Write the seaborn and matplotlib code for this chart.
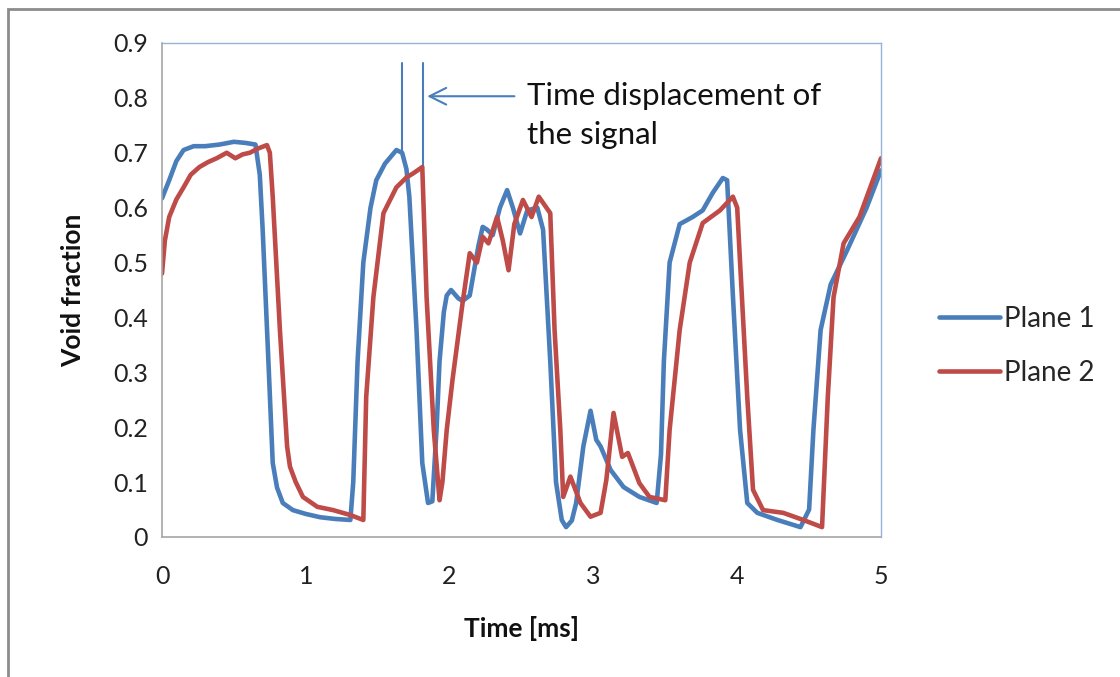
import matplotlib
matplotlib.use("Agg")
import matplotlib.pyplot as plt
import matplotlib.patches as mpatches
import numpy as np
import pandas as pd
import seaborn as sns

# ---- data ----
t_plane1 = [0.00, 0.05, 0.10, 0.15, 0.22, 0.30, 0.40, 0.50, 0.58, 0.65, 0.68, 0.70, 0.74, 0.77, 0.80, 0.84,
            0.91, 1.00, 1.10, 1.20, 1.31, 1.33, 1.36, 1.40, 1.45, 1.49, 1.55, 1.63, 1.67, 1.70, 1.72, 1.77,
            1.81, 1.85, 1.88, 1.91, 1.93, 1.96, 1.98, 2.01, 2.06, 2.09, 2.14, 2.20, 2.23, 2.26, 2.30,
            2.35, 2.40, 2.44, 2.49, 2.54, 2.61, 2.65, 2.70, 2.74, 2.78, 2.81, 2.85, 2.88, 2.93, 2.98,
            3.02, 3.05, 3.12, 3.21, 3.32, 3.44, 3.47, 3.49, 3.53, 3.60, 3.69, 3.76, 3.83, 3.90, 3.93,
            3.97, 4.02, 4.07, 4.14, 4.28, 4.44, 4.50, 4.53, 4.58, 4.65, 4.76, 4.90, 5.00]
v_plane1 = [0.617, 0.650, 0.685, 0.705, 0.712, 0.712, 0.715, 0.720, 0.718, 0.715, 0.660, 0.560, 0.320, 0.135, 0.090, 0.062,
            0.049, 0.042, 0.036, 0.033, 0.031, 0.100, 0.320, 0.500, 0.600, 0.650, 0.680, 0.705, 0.700, 0.670, 0.620, 0.377,
            0.135, 0.062, 0.065, 0.200, 0.320, 0.410, 0.440, 0.450, 0.435, 0.430, 0.440, 0.530, 0.565, 0.560, 0.550,
            0.600, 0.632, 0.600, 0.553, 0.595, 0.600, 0.560, 0.320, 0.100, 0.031, 0.018, 0.030, 0.062, 0.165, 0.230,
            0.177, 0.165, 0.122, 0.091, 0.073, 0.062, 0.150, 0.320, 0.500, 0.570, 0.583, 0.595, 0.627, 0.654, 0.650,
            0.440, 0.195, 0.062, 0.044, 0.031, 0.018, 0.050, 0.195, 0.377, 0.460, 0.520, 0.600, 0.668]

t_plane2 = [0.00, 0.02, 0.05, 0.10, 0.15, 0.20, 0.26, 0.32, 0.38, 0.45, 0.51, 0.56, 0.61, 0.67, 0.73,
            0.75, 0.77, 0.82, 0.87, 0.89, 0.93, 0.98, 1.08, 1.19, 1.31, 1.40, 1.42, 1.47, 1.54, 1.63,
            1.70, 1.75, 1.81, 1.84, 1.89, 1.93, 1.95, 1.98, 2.02, 2.09, 2.14, 2.19, 2.23, 2.27, 2.33,
            2.37, 2.41, 2.45, 2.51, 2.57, 2.62, 2.70, 2.73, 2.77, 2.79, 2.84, 2.91, 2.98, 3.05, 3.09,
            3.14, 3.20, 3.24, 3.32, 3.39, 3.50, 3.53, 3.60, 3.67, 3.76, 3.88, 3.97, 4.00, 4.02, 4.07,
            4.11, 4.18, 4.32, 4.46, 4.59, 4.63, 4.67, 4.74, 4.85, 5.00]
v_plane2 = [0.480, 0.540, 0.583, 0.615, 0.637, 0.660, 0.674, 0.683, 0.690, 0.700, 0.690, 0.697, 0.700, 0.708, 0.714,
            0.700, 0.620, 0.377, 0.165, 0.128, 0.100, 0.073, 0.055, 0.049, 0.040, 0.031, 0.255, 0.437, 0.590, 0.637,
            0.655, 0.663, 0.674, 0.437, 0.195, 0.067, 0.100, 0.195, 0.286, 0.426, 0.517, 0.500, 0.547, 0.535, 0.583,
            0.540, 0.486, 0.570, 0.614, 0.583, 0.620, 0.590, 0.377, 0.195, 0.073, 0.110, 0.062, 0.037, 0.044, 0.104,
            0.226, 0.146, 0.153, 0.098, 0.073, 0.067, 0.195, 0.377, 0.500, 0.572, 0.595, 0.620, 0.600, 0.500, 0.255,
            0.086, 0.049, 0.044, 0.031, 0.018, 0.255, 0.437, 0.535, 0.583, 0.690]

series_names = ["Plane 1", "Plane 2"]
x_ticks = [0, 1, 2, 3, 4, 5]
y_ticks = [0, 0.1, 0.2, 0.3, 0.4, 0.5, 0.6, 0.7, 0.8, 0.9]
marker_times = [1.67, 1.815]
marker_peaks = [0.700, 0.674]
annotation_lines = ["Time displacement of", "the signal"]

# ---- build long table ----
df = pd.concat([
    pd.DataFrame({"Time": t_plane1, "Void": v_plane1, "Series": series_names[0]}),
    pd.DataFrame({"Time": t_plane2, "Void": v_plane2, "Series": series_names[1]}),
], ignore_index=True)

sns.set_theme(style="white")
plt.rcParams['font.family'] = ['Lato', 'DejaVu Sans']

blue = "#4A7EBB"
red = "#BE4B48"

fig = plt.figure(figsize=(11.2, 6.77), dpi=100)
ax = fig.add_axes([162/1120, 1 - 537/677, (881-162)/1120, (537-43)/677])

sns.lineplot(data=df, x="Time", y="Void", hue="Series", palette=[blue, red],
             linewidth=3.3, ax=ax, sort=False, estimator=None)

ax.set_xlim(0, 5)
ax.set_ylim(0, 0.9)
ax.set_xticks(x_ticks)
ax.set_xticklabels([str(v) for v in x_ticks])
ax.set_yticks(y_ticks)
ax.set_yticklabels(["0" if v == 0 else f"{v:.1f}" for v in y_ticks])
ax.tick_params(axis="both", labelsize=18, colors="#222222", length=0)
ax.tick_params(axis="x", pad=20)
ax.tick_params(axis="y", pad=10)

ax.set_xlabel("Time [ms]", fontsize=19, fontweight="bold", labelpad=20, color="#111111")
ax.set_ylabel("Void fraction", fontsize=19, fontweight="bold", labelpad=20, color="#111111")

for side in ["top", "right"]:
    ax.spines[side].set_color("#95B3D7")
    ax.spines[side].set_linewidth(1.0)
for side in ["left", "bottom"]:
    ax.spines[side].set_color("#A6A6A6")
    ax.spines[side].set_linewidth(1.2)

# annotation: vertical markers and arrow
for tm, pk in zip(marker_times, marker_peaks):
    ax.plot([tm, tm], [pk, 0.863], color=blue, linewidth=1.5, zorder=1)
ax.annotate("", xy=(marker_times[1] + 0.01, 0.803), xytext=(2.47, 0.803),
            arrowprops=dict(arrowstyle="->", color=blue, lw=1.5, mutation_scale=30))
ax.text(2.54, 0.803, annotation_lines[0], fontsize=22.5, color="#111111",
        ha="left", va="center")
ax.text(2.54, 0.732, annotation_lines[1], fontsize=22.5, color="#111111",
        ha="left", va="center")

# legend
handles, labels = ax.get_legend_handles_labels()
ax.legend_.remove()
fig.legend(handles, labels, loc="center left", bbox_to_anchor=(914/1120, 1 - 346/677),
           frameon=False, fontsize=20, handlelength=2.2, handletextpad=0.15,
           labelspacing=1.0)

# outer border of the picture
fig.patches.append(mpatches.Rectangle((8/1120, -0.05), 1.2, 1 - 9/677 + 0.05,
                                      transform=fig.transFigure, fill=False,
                                      edgecolor="#8C8C8C", linewidth=2.0))

fig.savefig("out.png", dpi=100)
